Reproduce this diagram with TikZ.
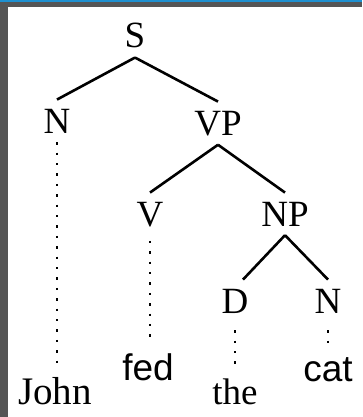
\documentclass[tikz,border=0pt]{standalone}
\usepackage{fontspec}
\setmainfont{Liberation Serif}
\newfontfamily\wordfont{Liberation Sans}
\usepackage{tikz}
\definecolor{framegray}{RGB}{85,85,85}
\definecolor{frameblue}{RGB}{30,144,208}

\begin{document}
\begin{tikzpicture}[
    x=1pt, y=-1pt,
    tag/.style={font=\fontsize{37}{44}\selectfont, anchor=base, inner xsep=0pt, inner ysep=9pt},
    word/.style={tag, font=\wordfont\fontsize{37}{44}\selectfont},
    branch/.style={line width=2.6pt},
    leaf/.style={line width=2.6pt, dash pattern=on 2.4pt off 8pt}
]
\useasboundingbox (0,0) rectangle (362,417);

% Frame
\fill[framegray] (0,0) rectangle (362,7.5);
\fill[framegray] (0,0) rectangle (8.3,417);
\fill[frameblue] (0,0) rectangle (362,1.7);

% Categories
\node[tag] (s) at (135,48) {S};
\node[tag] (n) at (57,133) {N};
\node[tag] (vp) at (218,135) {VP};
\node[tag] (v) at (150,226) {V};
\node[tag] (np) at (285,226) {NP};
\node[tag] (d) at (235,313) {D};
\node[tag] (nn) at (328,313) {N};

% Words
\node[tag, font=\fontsize{39}{46}\selectfont] (john) at (55,404) {John};
\node[word] (fed) at (148,380) {fed};
\node[tag] (the) at (235,404) {the};
\node[word] (cat) at (328,381) {cat};

% Branches
\draw[branch] (s.south) -- (n.north);
\draw[branch] (s.south) -- (vp.north);
\draw[branch] (vp.south) -- (v.north);
\draw[branch] (vp.south) -- (np.north);
\draw[branch] (np.south) -- ([xshift=8pt]d.north);
\draw[branch] (np.south) -- (nn.north);

% Dotted lines to words
\draw[leaf, shorten >=5pt] (n.south) -- (n.south |- john.north);
\draw[leaf, shorten <=5pt, shorten >=4pt] (v.south) -- (v.south |- fed.north);
\draw[leaf, shorten <=8pt, shorten >=2pt] (d.south) -- (d.south |- the.north);
\draw[leaf, shorten <=8pt, shorten >=5pt] (nn.south) -- (nn.south |- cat.north);

\end{tikzpicture}
\end{document}
